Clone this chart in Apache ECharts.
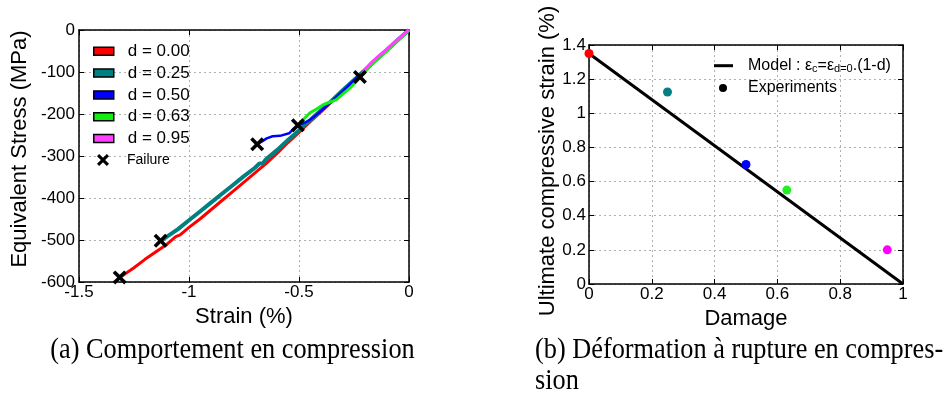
<!DOCTYPE html>
<html><head><meta charset="utf-8">
<script src="https://cdn.jsdelivr.net/npm/echarts@6/dist/echarts.min.js"></script>
<style>html,body{margin:0;padding:0;background:#fff}#c{width:944px;height:396px}</style>
</head><body><div id="c"></div>
<script>
// ---- Left panel: stress-strain curves ----
const strainD000 = [0, -0.05, -0.1, -0.15, -0.2, -0.25, -0.3, -0.35, -0.4, -0.45, -0.5, -0.55, -0.6, -0.65, -0.7, -0.75, -0.8, -0.85, -0.9, -0.95, -1.0, -1.04, -1.06, -1.1, -1.15, -1.2, -1.25, -1.3, -1.315];
const stressD000 = [0, -24, -48, -72, -97, -121, -146, -170, -195, -219, -244, -268, -294, -318, -340, -362, -384, -406, -428, -450, -470, -488, -492, -510, -528, -546, -566, -584, -589];
const strainD025 = [0, -0.05, -0.1, -0.15, -0.2, -0.25, -0.3, -0.35, -0.4, -0.45, -0.5, -0.55, -0.6, -0.65, -0.665, -0.68, -0.7, -0.75, -0.8, -0.85, -0.9, -0.95, -1.0, -1.05, -1.1, -1.129];
const stressD025 = [0, -23, -47, -71, -95, -119, -143, -168, -191, -215, -239, -262, -286, -308, -318, -318, -328, -348, -369, -390, -411, -432, -453, -474, -492, -502];
const strainD050 = [0, -0.05, -0.1, -0.15, -0.2, -0.25, -0.3, -0.35, -0.4, -0.45, -0.48, -0.508, -0.526, -0.545, -0.553, -0.586, -0.62, -0.647, -0.67, -0.69];
const stressD050 = [0, -24, -48, -72, -96, -120, -145, -169, -193, -214, -222, -229, -236, -246, -250, -252, -253, -258, -266, -272];
const strainD063 = [0, -0.03, -0.06, -0.1, -0.14, -0.18, -0.22, -0.26, -0.3, -0.33, -0.36, -0.39, -0.42, -0.45, -0.48, -0.505];
const stressD063 = [0, -16, -30, -50, -68, -88, -112, -134, -152, -166, -172, -178, -188, -197, -213, -227];
const strainD095 = [0, -0.02, -0.05, -0.08, -0.11, -0.14, -0.17, -0.2, -0.223];
const stressD095 = [0, -8, -22, -36, -50, -63, -77, -94, -112];
const failureStrain = [-1.315, -1.129, -0.69, -0.505, -0.223];
const failureStress = [-589, -502, -272, -227, -112];
const curveNames = ['d = 0.00', 'd = 0.25', 'd = 0.50', 'd = 0.63', 'd = 0.95'];
const curveColors = ['#ff0000', '#008080', '#0000ff', '#11ee11', '#ff40ff'];
const curveWidths = [3, 4, 2.5, 3, 3];
const strainTicks = [-1.5, -1, -0.5, 0];
const stressTicks = [-600, -500, -400, -300, -200, -100, 0];

// ---- Right panel: ultimate strain vs damage ----
const damage = [0, 0.25, 0.5, 0.63, 0.95];
const ultimateStrain = [1.35, 1.125, 0.70, 0.55, 0.20];
const expColors = ['#ff0000', '#008080', '#0000ff', '#22ee22', '#ff00ff'];
const modelDamage = [0, 1];
const modelStrain = [1.35, 0];
const damageTicks = [0, 0.2, 0.4, 0.6, 0.8, 1];
const ultTicks = [0, 0.2, 0.4, 0.6, 0.8, 1, 1.2, 1.4];

const SANS = '"Liberation Sans", Arial, sans-serif';
const SERIF = '"Liberation Serif", "Times New Roman", serif';
const XPATH = 'path://M0,1.8L1.8,0L5,3.2L8.2,0L10,1.8L6.8,5L10,8.2L8.2,10L5,6.8L1.8,10L0,8.2L3.2,5Z';
const pair = (xs, ys) => xs.map((x, i) => [x, ys[i]]);
const grid = {show: true, lineStyle: {color: '#b0b0b0', type: [2, 3], width: 1}};

function axis(o) {
  return Object.assign({
    type: 'value', scale: false,
    axisLine: {show: true, onZero: false, lineStyle: {color: '#000', width: 1.5}},
    axisTick: {show: true, inside: true, length: 5, lineStyle: {color: '#000', width: 1}},
    axisLabel: {show: false},
    splitLine: {show: false}
  }, o);
}
const lbl = (margin) => ({show: true, color: '#000', fontFamily: SANS, fontSize: 17, margin: margin});
const nameStyle = (pad) => ({color: '#000', fontFamily: SANS, fontSize: 22, padding: pad || 0});

const chart = echarts.init(document.getElementById('c'), null, {renderer: 'canvas'});

const curves = [[strainD000, stressD000], [strainD025, stressD025], [strainD050, stressD050], [strainD063, stressD063], [strainD095, stressD095]];
const series = curves.map((c, i) => ({
  name: curveNames[i], type: 'line', xAxisIndex: 0, yAxisIndex: 0,
  data: pair(c[0], c[1]), symbol: 'none', showSymbol: false,
  lineStyle: {color: curveColors[i], width: curveWidths[i]},
  itemStyle: {color: curveColors[i]}, z: 2 + i
}));
series.push({
  name: 'Failure', type: 'scatter', xAxisIndex: 0, yAxisIndex: 0,
  data: pair(failureStrain, failureStress), symbol: XPATH, symbolSize: 14,
  itemStyle: {color: '#000', opacity: 1}, z: 10
});
series.push({
  name: 'Model', type: 'line', xAxisIndex: 2, yAxisIndex: 2,
  data: pair(modelDamage, modelStrain), symbol: 'none', showSymbol: false,
  lineStyle: {color: '#000', width: 3}, itemStyle: {color: '#000'}, z: 3
});
series.push({
  name: 'Experiments', type: 'scatter', xAxisIndex: 2, yAxisIndex: 2,
  data: damage.map((d, i) => ({value: [d, ultimateStrain[i]], itemStyle: {color: expColors[i], opacity: 1}})),
  symbol: 'circle', symbolSize: 9, itemStyle: {color: '#000', opacity: 1}, z: 5
});

chart.setOption({
  animation: false,
  backgroundColor: '#fff',
  grid: [
    {left: 79, top: 30, width: 330, height: 252},
    {left: 589, top: 45, width: 314, height: 239}
  ],
  xAxis: [
    axis({gridIndex: 0, position: 'bottom', min: strainTicks[0], max: strainTicks[strainTicks.length - 1], interval: 0.5,
      axisLabel: lbl(2), splitLine: grid, name: 'Strain (%)', nameLocation: 'middle', nameGap: 19, nameTextStyle: nameStyle()}),
    axis({gridIndex: 0, position: 'top', min: strainTicks[0], max: strainTicks[strainTicks.length - 1], interval: 0.5}),
    axis({gridIndex: 1, position: 'bottom', min: damageTicks[0], max: damageTicks[damageTicks.length - 1], interval: 0.2,
      axisLabel: lbl(2), splitLine: grid, name: 'Damage', nameLocation: 'middle', nameGap: 19, nameTextStyle: nameStyle()}),
    axis({gridIndex: 1, position: 'top', min: damageTicks[0], max: damageTicks[damageTicks.length - 1], interval: 0.2})
  ],
  yAxis: [
    axis({gridIndex: 0, position: 'left', min: stressTicks[0], max: stressTicks[stressTicks.length - 1], interval: 100,
      axisLabel: lbl(4), splitLine: grid, name: 'Equivalent Stress (MPa)', nameLocation: 'middle', nameGap: 48,
      nameTextStyle: nameStyle([0, 0, 0, 14])}),
    axis({gridIndex: 0, position: 'right', min: stressTicks[0], max: stressTicks[stressTicks.length - 1], interval: 100}),
    axis({gridIndex: 1, position: 'left', min: ultTicks[0], max: ultTicks[ultTicks.length - 1], interval: 0.2,
      axisLabel: lbl(3), splitLine: grid, name: 'Ultimate compressive strain (%)', nameLocation: 'middle', nameGap: 25,
      nameTextStyle: nameStyle([0, 0, 0, 7])}),
    axis({gridIndex: 1, position: 'right', min: ultTicks[0], max: ultTicks[ultTicks.length - 1], interval: 0.2})
  ],
  legend: [
    {data: curveNames, left: 93, top: 42.8, orient: 'vertical', padding: 0, itemWidth: 20, itemHeight: 8, itemGap: 4.8,
      icon: 'rect', itemStyle: {borderColor: '#000', borderWidth: 1.5}, selectedMode: false,
      textStyle: {fontFamily: SANS, fontSize: 17, lineHeight: 17, color: '#000', padding: [0, 0, 0, 9]}},
    {data: ['Failure'], left: 97, top: 153, padding: 0, itemWidth: 12, itemHeight: 12, icon: XPATH, selectedMode: false,
      itemStyle: {color: '#000', opacity: 1},
      textStyle: {fontFamily: SANS, fontSize: 14, lineHeight: 14, color: '#000', padding: [0, 0, 0, 13]}},
    {data: ['Model'], left: 714, top: 56.7, padding: 0, itemWidth: 19, itemHeight: 3, icon: 'rect', selectedMode: false,
      formatter: () => 'Model : ε{s|c}=ε{s|d=0}.(1-d)',
      textStyle: {fontFamily: SANS, fontSize: 16, lineHeight: 18, color: '#000', padding: [0, 0, 0, 10],
        rich: {s: {fontFamily: SANS, fontSize: 11, lineHeight: 11, color: '#000', verticalAlign: 'bottom'}}}},
    {data: ['Experiments'], left: 719, top: 79, padding: 0, itemWidth: 8, itemHeight: 8, icon: 'circle', selectedMode: false,
      itemStyle: {color: '#000', opacity: 1},
      textStyle: {fontFamily: SANS, fontSize: 16, lineHeight: 18, color: '#000', padding: [0, 0, 0, 16]}}
  ],
  graphic: [
    {type: 'text', x: 232.5, y: 350, scaleY: 1.1, style: {text: '(a) Comportement en compression', fontFamily: SERIF, fontSize: 26.3, fill: '#000', align: 'center', verticalAlign: 'middle'}},
    {type: 'text', x: 535, y: 350, scaleY: 1.1, style: {text: '(b) Déformation à rupture en compres-', fontFamily: SERIF, fontSize: 26.3, fill: '#000', align: 'left', verticalAlign: 'middle'}},
    {type: 'text', x: 535, y: 381, scaleY: 1.1, style: {text: 'sion', fontFamily: SERIF, fontSize: 26.3, fill: '#000', align: 'left', verticalAlign: 'middle'}}
  ],
  series: series
});
</script>
</body></html>
